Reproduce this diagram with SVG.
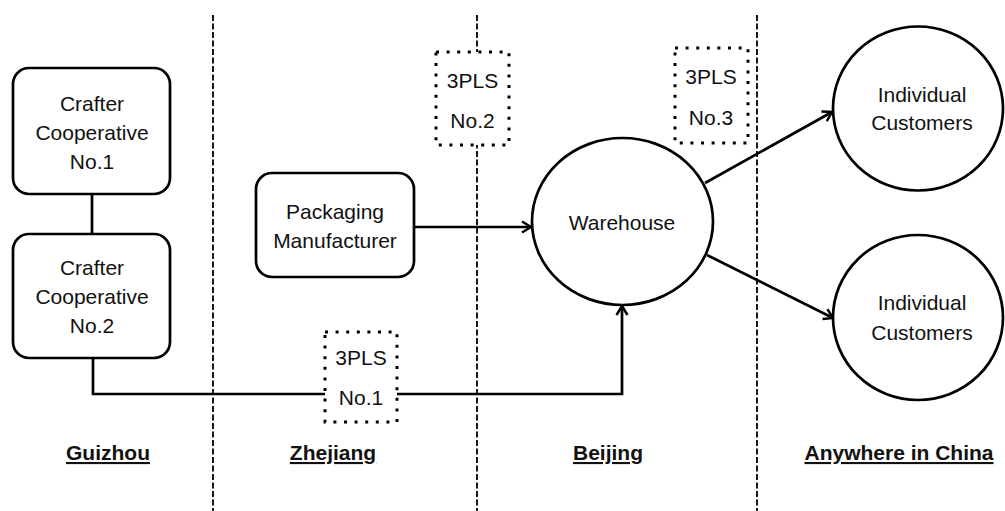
<svg xmlns="http://www.w3.org/2000/svg" width="1005" height="511" viewBox="0 0 1005 511">
<style>
.box{fill:#fff;stroke:#000;stroke-width:2.7}
.dot{fill:#fff;stroke:#000;stroke-width:3;stroke-dasharray:3 7.6}
.t{font-family:"Liberation Sans",Arial,sans-serif;font-size:21px;fill:#111;text-anchor:middle}
.lbl{font-family:"Liberation Sans",Arial,sans-serif;font-size:21px;font-weight:bold;fill:#111;text-anchor:middle;text-decoration:underline}
.ln{fill:none;stroke:#000;stroke-width:2.7}
.dash{stroke:#000;stroke-width:1.8;stroke-dasharray:6 2.5}
</style>
<defs>
<marker id="arr" viewBox="0 0 14 14" markerWidth="14" markerHeight="14" refX="12" refY="7" orient="auto" markerUnits="userSpaceOnUse">
<path d="M3,1.5 L12,7 L3,12.5" fill="none" stroke="#000" stroke-width="2.5"/>
</marker>
</defs>
<rect width="1005" height="511" fill="#fff"/>
<g id="regions">
<line class="dash" x1="213" y1="15" x2="213" y2="511"/>
<line class="dash" x1="477" y1="15" x2="477" y2="511"/>
<line class="dash" x1="757" y1="15" x2="757" y2="511"/>
<text class="lbl" x="108" y="460">Guizhou</text>
<text class="lbl" x="333" y="460">Zhejiang</text>
<text class="lbl" x="608" y="460">Beijing</text>
<text class="lbl" x="899" y="460">Anywhere in China</text>
</g>
<g id="connectors">
<line class="ln" x1="92" y1="194" x2="92" y2="234"/>
<path class="ln" d="M93,358 V394 H622 V306" marker-end="url(#arr)"/>
<line class="ln" x1="414" y1="227" x2="531" y2="227" marker-end="url(#arr)"/>
<line class="ln" x1="705" y1="183" x2="832" y2="112" marker-end="url(#arr)"/>
<line class="ln" x1="707" y1="255" x2="833" y2="318" marker-end="url(#arr)"/>
</g>
<g id="crafter1">
<rect class="box" x="13" y="68" width="157" height="126" rx="16"/>
<text class="t" x="92" y="111">Crafter</text>
<text class="t" x="92" y="140">Cooperative</text>
<text class="t" x="92" y="169">No.1</text>
</g>
<g id="crafter2">
<rect class="box" x="13" y="234" width="157" height="124" rx="16"/>
<text class="t" x="92" y="275">Crafter</text>
<text class="t" x="92" y="304">Cooperative</text>
<text class="t" x="92" y="333">No.2</text>
</g>
<g id="packaging">
<rect class="box" x="256" y="173" width="158" height="104" rx="16"/>
<text class="t" x="335" y="219">Packaging</text>
<text class="t" x="335" y="248">Manufacturer</text>
</g>
<g id="pls1">
<rect class="dot" x="325" y="332" width="72" height="90"/>
<text class="t" x="361" y="364.5">3PLS</text>
<text class="t" x="361" y="404.5">No.1</text>
</g>
<g id="pls2">
<rect class="dot" x="436" y="52" width="73" height="93"/>
<text class="t" x="472.5" y="87.5">3PLS</text>
<text class="t" x="472.5" y="127.5">No.2</text>
</g>
<g id="pls3">
<rect class="dot" x="675" y="48" width="73" height="95"/>
<text class="t" x="711" y="83.5">3PLS</text>
<text class="t" x="711" y="124.5">No.3</text>
</g>
<g id="warehouse">
<ellipse class="box" cx="622.5" cy="221.5" rx="90.5" ry="83.5"/>
<text class="t" x="622" y="229.5">Warehouse</text>
</g>
<g id="customers1">
<ellipse class="box" cx="918" cy="108.5" rx="85" ry="82"/>
<text class="t" x="922" y="102">Individual</text>
<text class="t" x="922" y="130">Customers</text>
</g>
<g id="customers2">
<ellipse class="box" cx="918" cy="317.5" rx="85" ry="82.5"/>
<text class="t" x="922" y="310">Individual</text>
<text class="t" x="922" y="340">Customers</text>
</g>
</svg>
